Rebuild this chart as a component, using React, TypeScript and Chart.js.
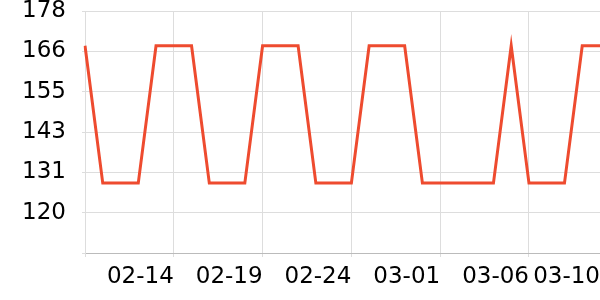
import React, { useEffect, useRef } from "react";
import { Chart, registerables } from "chart.js";

Chart.register(...registerables);

const categories = [
  "02-09", "02-10", "02-11", "02-12", "02-13", "02-14", "02-15", "02-16", "02-17", "02-18",
  "02-19", "02-20", "02-21", "02-22", "02-23", "02-24", "02-25", "02-26", "02-27", "02-28",
  "03-01", "03-02", "03-03", "03-04", "03-05", "03-06", "03-07", "03-08", "03-09", "03-10",
];

const seriesValues = [
  168, 128.5, 128.5, 128.5, 168, 168, 168, 128.5, 128.5, 128.5,
  168, 168, 168, 128.5, 128.5, 128.5, 168, 168, 168, 128.5,
  128.5, 128.5, 128.5, 128.5, 168, 128.5, 128.5, 128.5, 168, 168,
];

const xTickIndices = [0, 5, 10, 15, 20, 25, 29];
const yTickValues = [108.4, 120, 131.6, 143.2, 154.8, 166.4, 178];
const yTickLabels = ["", "120", "131", "143", "155", "166", "178"];

export default function App() {
  const ref = useRef<HTMLCanvasElement>(null);
  useEffect(() => {
    if (!ref.current) return;
    const font = { family: "DejaVu Sans", size: 23, lineHeight: 1.0 };
    const chart = new Chart(ref.current, {
      type: "line",
      data: {
        labels: categories,
        datasets: [
          {
            data: seriesValues,
            borderColor: "#ee4b2f",
            borderWidth: 3,
            pointRadius: 0,
            fill: false,
            tension: 0,
          },
        ],
      },
      options: {
        animation: false,
        responsive: false,
        layout: { padding: { left: 0, right: 0, top: 11, bottom: 2 } },
        plugins: { legend: { display: false }, tooltip: { enabled: false } },
        scales: {
          x: {
            type: "category",
            offset: false,
            grid: { color: "#dddddd", tickLength: 4, drawTicks: true },
            border: { color: "#bbbbbb" },
            afterBuildTicks: (axis: any) => {
              axis.ticks = xTickIndices.map((i) => ({ value: i }));
            },
            afterFit: (axis: any) => {
              axis.paddingLeft = 0;
              axis.paddingRight = 0;
            },
            ticks: {
              autoSkip: false,
              maxRotation: 0,
              minRotation: 0,
              align: "end",
              padding: 9,
              color: "#000000",
              font,
              callback: (value: any) => (value === 0 ? "" : categories[value as number]),
            },
          },
          y: {
            min: 108.4,
            max: 178,
            grid: { color: "#dddddd", tickLength: 3 },
            border: { color: "#dddddd" },
            afterBuildTicks: (axis: any) => {
              axis.ticks = yTickValues.map((v) => ({ value: v }));
            },
            afterFit: (axis: any) => {
              axis.width = 85;
              axis.paddingTop = 0;
              axis.paddingBottom = 0;
            },
            ticks: {
              padding: 16,
              color: "#000000",
              font,
              callback: (_v: any, index: number) => yTickLabels[index],
            },
          },
        },
      },
    });
    return () => chart.destroy();
  }, []);
  return (
    <div style={{ position: "fixed", left: 0, top: 0, width: 600, height: 300 }}>
      <canvas ref={ref} width={600} height={300} style={{ display: "block" }} />
    </div>
  );
}
